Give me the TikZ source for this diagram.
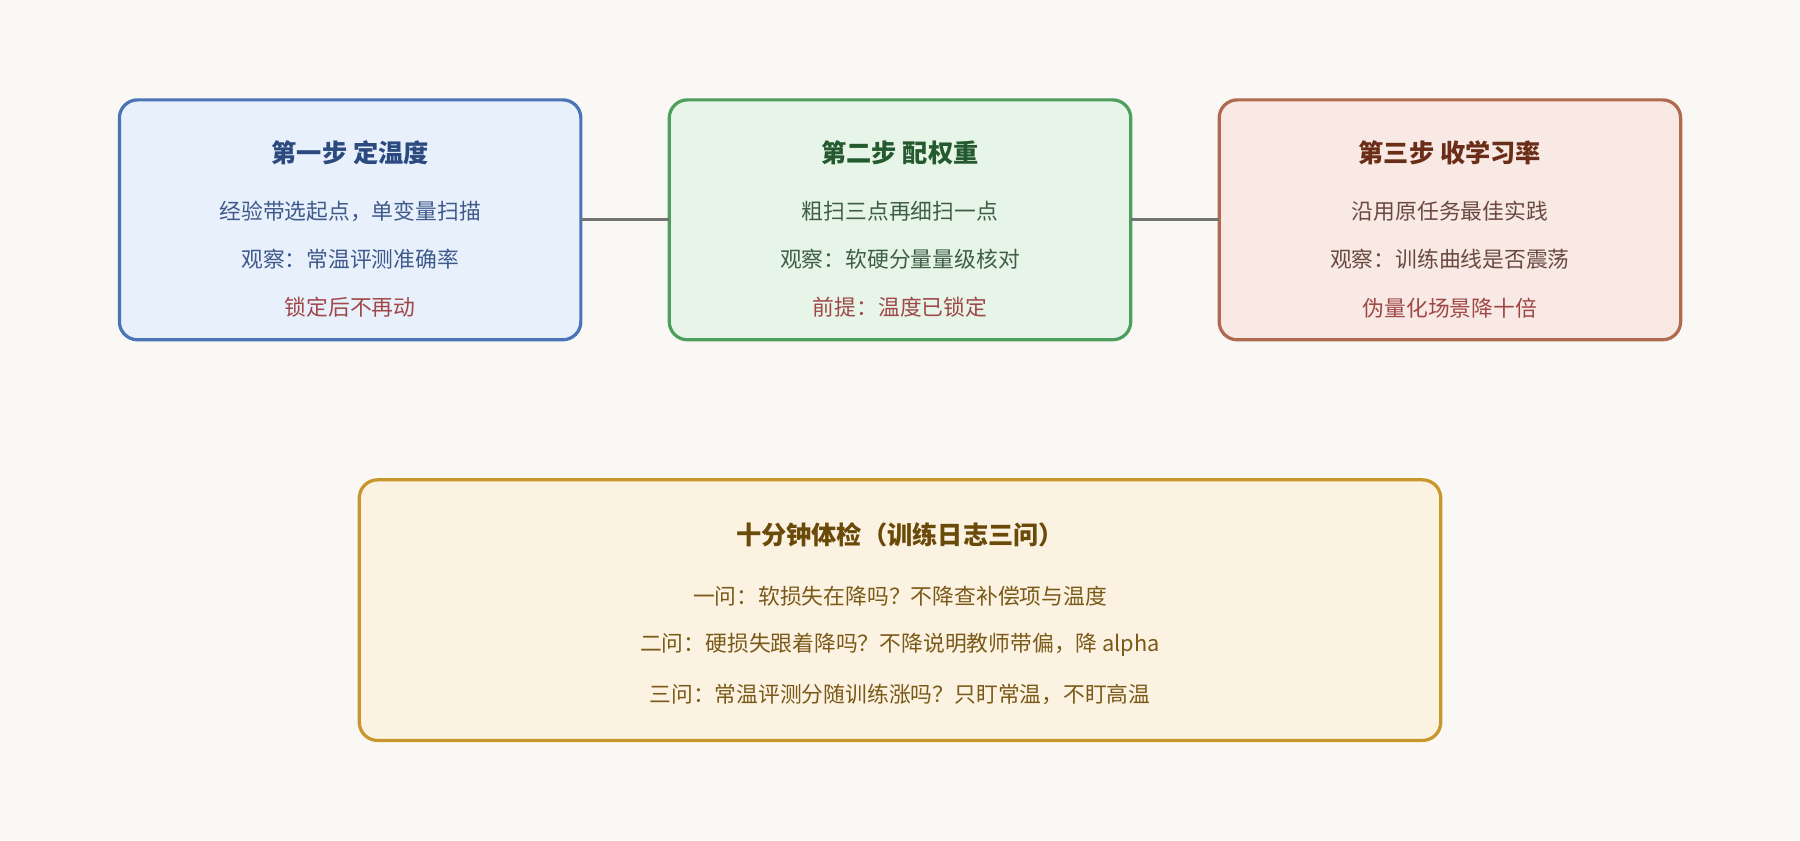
\documentclass[tikz,border=0pt]{standalone}
\usepackage{fontspec}
\newfontfamily\cjk{Noto Sans CJK SC}
\definecolor{bg}{HTML}{FAF8F4}
\definecolor{fa}{HTML}{E8F0FC}\definecolor{da}{HTML}{4A74B6}\definecolor{ta}{HTML}{2B4A80}\definecolor{ba}{HTML}{3F5A8A}
\definecolor{fb}{HTML}{E6F5E8}\definecolor{db}{HTML}{4E9E5E}\definecolor{tb}{HTML}{245A2E}\definecolor{bb}{HTML}{3F5F45}
\definecolor{fc}{HTML}{F8E9E4}\definecolor{dc}{HTML}{B06A50}\definecolor{tc}{HTML}{6A2E18}\definecolor{bc}{HTML}{6A4A40}
\definecolor{fd}{HTML}{FCF2E2}\definecolor{dd}{HTML}{C8962A}\definecolor{td}{HTML}{6A4A08}\definecolor{bd}{HTML}{7A5A18}
\definecolor{warn}{HTML}{A04848}
\begin{document}
\begin{tikzpicture}[x=0.02cm,y=-0.02cm,
 box/.style={draw,line width=1.6pt,rounded corners=9pt},
 ttl/.style={font=\cjk\fontsize{12.5}{14}\selectfont\bfseries},
 txt/.style={font=\cjk\fontsize{10.8}{13}\selectfont},
 con/.style={draw=gray!110,line width=1.5pt}]
\fill[bg] (0,0) rectangle (1568,732);
\useasboundingbox (0,0) rectangle (1568,732);
\draw[box,draw=da,fill=fa] (104,87) rectangle (506,296); \node (a) at (305,191) {};
\draw[box,draw=db,fill=fb] (583,87) rectangle (985,296); \node (b) at (784,191) {};
\draw[box,draw=dc,fill=fc] (1062,87) rectangle (1464,296); \node (c) at (1263,191) {};
\draw[box,draw=dd,fill=fd] (313,418) rectangle (1255,645);
\coordinate (a1) at (506,191); \coordinate (b0) at (583,191);
\coordinate (b1) at (985,191); \coordinate (c0) at (1062,191);
\draw[con] (a1) -- (b0); \draw[con] (b1) -- (c0);
\node[ttl,text=ta] (a0) at (305,133) {第一步 定温度};
\node[txt,text=ba] (a2) at (305,184) {经验带选起点，单变量扫描};
\node[txt,text=ba] (a3) at (305,226) {观察：常温评测准确率};
\node[txt,text=warn] (a4) at (305,268) {锁定后不再动};
\node[ttl,text=tb] (bt) at (784,133) {第二步 配权重};
\node[txt,text=bb] (b2) at (784,184) {粗扫三点再细扫一点};
\node[txt,text=bb] (b3) at (784,226) {观察：软硬分量量级核对};
\node[txt,text=warn] (b4) at (784,268) {前提：温度已锁定};
\node[ttl,text=tc] (ct) at (1263,133) {第三步 收学习率};
\node[txt,text=bc] (c2) at (1263,184) {沿用原任务最佳实践};
\node[txt,text=bc] (c3) at (1263,226) {观察：训练曲线是否震荡};
\node[txt,text=warn] (c4) at (1263,268) {伪量化场景降十倍};
\node[ttl,text=td] (dt) at (784,466) {十分钟体检（训练日志三问）};
\node[txt,text=bd] (d1) at (784,519) {一问：软损失在降吗？不降查补偿项与温度};
\node[txt,text=bd] (d2) at (784,562) {二问：硬损失跟着降吗？不降说明教师带偏，降 alpha};
\node[txt,text=bd] (d3) at (784,605) {三问：常温评测分随训练涨吗？只盯常温，不盯高温};
\end{tikzpicture}
\end{document}
